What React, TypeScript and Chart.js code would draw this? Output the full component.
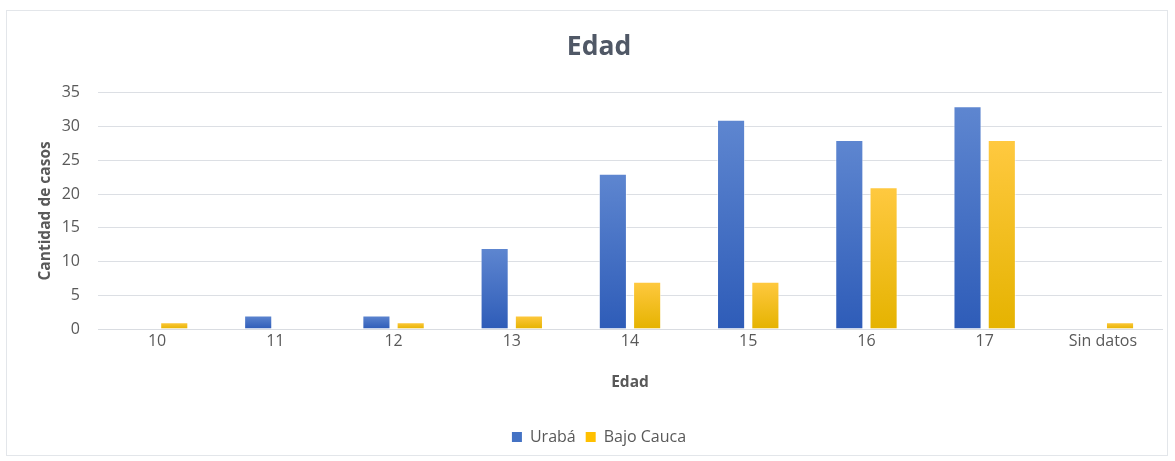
import React, { useEffect, useRef } from "react";
import { Chart, registerables } from "chart.js";

Chart.register(...registerables);

const categories = ["10", "11", "12", "13", "14", "15", "16", "17", "Sin datos"];
const uraba = [0, 2, 2, 12, 23, 31, 28, 33, 0];
const bajoCauca = [1, 0, 1, 2, 7, 7, 21, 28, 1];
const yTicks = [0, 5, 10, 15, 20, 25, 30, 35];

const FONT = "'Open Sans', 'Noto Sans', sans-serif";
const TEXT = "#595959";

function barGradient(ctx: any, top: string, bottom: string, fallback: string) {
  const chart = ctx.chart;
  const yScale = chart.scales && chart.scales.y;
  if (!yScale || !chart.chartArea || ctx.type !== "data") return fallback;
  const v = ctx.raw as number;
  const yTop = yScale.getPixelForValue(v);
  const yBot = yScale.getPixelForValue(0);
  if (!isFinite(yTop) || !isFinite(yBot) || yBot - yTop < 1) return fallback;
  const g = chart.ctx.createLinearGradient(0, yTop, 0, yBot);
  g.addColorStop(0, top);
  g.addColorStop(1, bottom);
  return g;
}

export default function App() {
  const ref = useRef<HTMLCanvasElement | null>(null);
  useEffect(() => {
    if (!ref.current) return;
    const chart = new Chart(ref.current, {
      type: "bar",
      data: {
        labels: categories,
        datasets: [
          {
            label: "Urabá",
            data: uraba,
            backgroundColor: (c: any) => barGradient(c, "#5e86d0", "#2e5cb8", "#4472c4"),
            borderColor: "rgba(255,255,255,0.55)",
            borderWidth: 1,
            categoryPercentage: 0.58,
            barPercentage: 0.82,
          },
          {
            label: "Bajo Cauca",
            data: bajoCauca,
            backgroundColor: (c: any) => barGradient(c, "#ffc940", "#e5b300", "#ffc000"),
            borderColor: "rgba(255,255,255,0.55)",
            borderWidth: 1,
            categoryPercentage: 0.58,
            barPercentage: 0.82,
          },
        ],
      },
      options: {
        animation: false,
        responsive: false,
        maintainAspectRatio: false,
        layout: { padding: { left: 29, right: 5, top: 21, bottom: 0 } },
        plugins: {
          title: {
            display: true,
            text: "Edad",
            color: "#505866",
            font: { family: FONT, size: 26.5, weight: "bold" },
            padding: { top: 0, bottom: 29 },
          },
          legend: {
            position: "bottom",
            labels: {
              color: TEXT,
              font: { family: FONT, size: 16 },
              boxWidth: 10,
              boxHeight: 10,
              padding: 10,
              generateLabels: (ch: any) =>
                ch.data.datasets.map((d: any, i: number) => ({
                  text: d.label,
                  fillStyle: i === 0 ? "#4472c4" : "#ffc000",
                  strokeStyle: i === 0 ? "#4472c4" : "#ffc000",
                  lineWidth: 0,
                  datasetIndex: i,
                  fontColor: TEXT,
                })),
            },
          },
          tooltip: { enabled: false },
        },
        scales: {
          x: {
            grid: { display: false, drawTicks: false },
            border: { display: true, color: "#d9dce1", width: 1 },
            ticks: { color: TEXT, font: { family: FONT, size: 16 }, padding: 3 },
            title: {
              display: true,
              text: "Edad",
              color: TEXT,
              font: { family: FONT, size: 15.5, weight: "bold" },
              padding: { top: 0, bottom: 27 },
            },
            afterFit: (s: any) => {
              s.height = 90;
            },
          },
          y: {
            min: 0,
            max: 35,
            afterBuildTicks: (s: any) => {
              s.ticks = yTicks.map((v) => ({ value: v }));
            },
            grid: { color: "#dcdfe4", lineWidth: 1, drawTicks: false },
            border: { display: false },
            ticks: { color: TEXT, font: { family: FONT, size: 16 }, padding: 18 },
            title: {
              display: true,
              text: "Cantidad de casos",
              color: TEXT,
              font: { family: FONT, size: 15.5, weight: "bold" },
              padding: { top: 0, bottom: 0 },
            },
            afterFit: (s: any) => {
              s.width = 62;
            },
          },
        },
      },
    });
    return () => chart.destroy();
  }, []);

  return (
    <div
      style={{
        position: "absolute",
        left: 6,
        top: 10,
        width: 1162,
        height: 446,
        border: "1px solid #e3e6ea",
        background: "#fff",
        boxSizing: "border-box",
      }}
    >
      <canvas ref={ref} width={1160} height={444} style={{ display: "block" }} />
    </div>
  );
}
